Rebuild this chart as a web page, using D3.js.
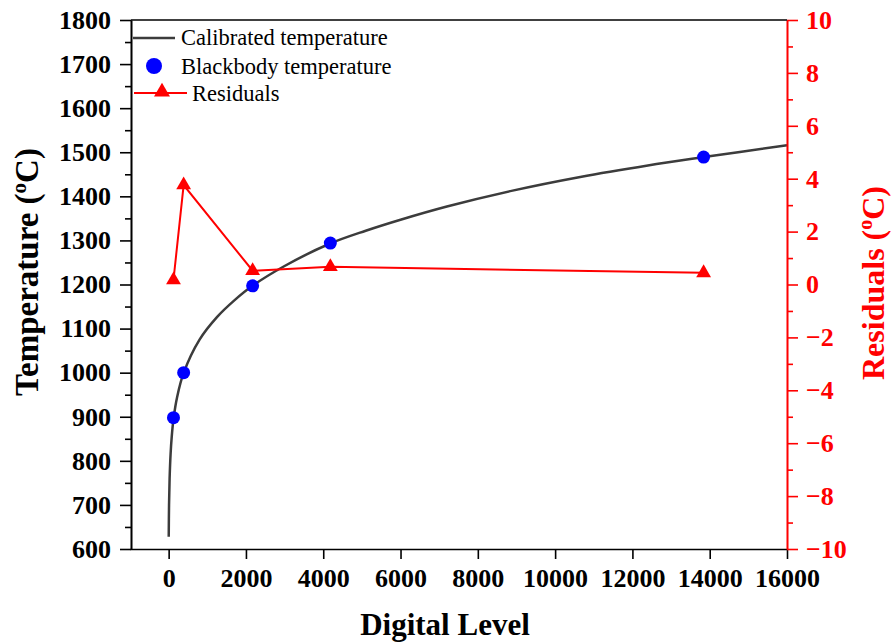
<!DOCTYPE html>
<html>
<head>
<meta charset="utf-8">
<script src="https://cdn.jsdelivr.net/npm/d3@7"></script>
<style>
  body { margin: 0; background: white; }
  text { font-family: "Liberation Serif", "Times New Roman", serif; }
</style>
</head>
<body>
<div id="chart"></div>
<script>
// calibrated curve
const curveLevel = [2, 10, 25, 50, 80, 130, 220, 390, 800, 1250, 1700, 2170, 3000, 4180, 5100, 6000, 7200, 8900, 10650, 12400, 13850, 16000];
const curveTemp = [628, 700, 760, 815, 855, 898, 945, 1000, 1075, 1126, 1164, 1197, 1242, 1293, 1322, 1347, 1377, 1413, 1444, 1470, 1489, 1516];

// blackbody points
const bbLevel = [125, 388, 2173, 4184, 13842];
const bbTemp = [898, 1000, 1197, 1294, 1489];

// residuals (right axis)
const resLevel = [125, 388, 2173, 4184, 13842];
const resValue = [0.17, 3.76, 0.52, 0.67, 0.44];

const xTicks = [0, 2000, 4000, 6000, 8000, 10000, 12000, 14000, 16000];
const yTicks = [600, 700, 800, 900, 1000, 1100, 1200, 1300, 1400, 1500, 1600, 1700, 1800];
const yMinor = [650, 750, 850, 950, 1050, 1150, 1250, 1350, 1450, 1550, 1650, 1750];
const rTicks = [-10, -8, -6, -4, -2, 0, 2, 4, 6, 8, 10];
const rMinor = [-9, -7, -5, -3, -1, 1, 3, 5, 7, 9];

const w = 893;
const h = 644;
const padLeft = 131;
const padRight = 787;
const padTop = 20;
const padBottom = 549;

const xScale = d3.scaleLinear().domain([-1000, 16000]).range([padLeft - 1, padRight]);
const yScale = d3.scaleLinear().domain([600, 1800]).range([padBottom, padTop]);
const rScale = d3.scaleLinear().domain([-10, 10]).range([padBottom, padTop]);

const svg = d3.select("#chart")
  .append("svg")
  .attr("width", w)
  .attr("height", h)
  .style("background", "white");

// curve
const line = d3.line()
  .x((d, i) => xScale(curveLevel[i]))
  .y(d => yScale(d))
  .curve(d3.curveCatmullRom.alpha(0.5));

svg.append("path")
  .datum(curveTemp)
  .attr("d", line)
  .attr("fill", "none")
  .attr("stroke", "#3c3c3c")
  .attr("stroke-width", 2.5);

// residual line + triangles
const resLine = d3.line()
  .x((d, i) => xScale(resLevel[i]))
  .y(d => rScale(d));

svg.append("path")
  .datum(resValue)
  .attr("d", resLine)
  .attr("fill", "none")
  .attr("stroke", "#ff0000")
  .attr("stroke-width", 2);

const tri = d3.symbol().type(d3.symbolTriangle).size(95);

svg.selectAll(".tri")
  .data(resValue)
  .enter()
  .append("path")
  .attr("class", "tri")
  .attr("d", tri)
  .attr("transform", (d, i) => "translate(" + xScale(resLevel[i]) + "," + rScale(d) + ")")
  .attr("fill", "#ff0000");

// blackbody dots
svg.selectAll(".dot")
  .data(bbTemp)
  .enter()
  .append("circle")
  .attr("class", "dot")
  .attr("cx", (d, i) => xScale(bbLevel[i]))
  .attr("cy", d => yScale(d))
  .attr("r", 6.5)
  .attr("fill", "#0000ff");

// axes
function styleAxis(g, color, size) {
  g.selectAll("path").attr("stroke", color).attr("stroke-width", 1.6);
  g.selectAll("line").attr("stroke", color).attr("stroke-width", 1.6);
  g.selectAll("text")
    .attr("fill", color)
    .style("font-size", size)
    .style("font-weight", "bold")
    .style("font-family", "'Liberation Serif', 'Times New Roman', serif");
}

const xAxis = d3.axisBottom(xScale).tickValues(xTicks).tickSize(10).tickSizeOuter(0).tickPadding(10).tickFormat(d3.format("d"));
svg.append("g")
  .attr("transform", "translate(0," + padBottom + ")")
  .call(xAxis)
  .call(g => styleAxis(g, "#000", "26px"));

const yAxis = d3.axisLeft(yScale).tickValues(yTicks).tickSize(11).tickSizeOuter(0).tickPadding(9).tickFormat(d3.format("d"));
svg.append("g")
  .attr("transform", "translate(" + padLeft + ",0)")
  .call(yAxis)
  .call(g => styleAxis(g, "#000", "26px"));

svg.append("g")
  .attr("transform", "translate(" + padLeft + ",0)")
  .call(d3.axisLeft(yScale).tickValues(yMinor).tickSize(6).tickSizeOuter(0).tickFormat(""))
  .call(g => styleAxis(g, "#000", "26px"));

const rAxis = d3.axisRight(rScale).tickValues(rTicks).tickSize(11).tickSizeOuter(0).tickPadding(8);
svg.append("g")
  .attr("transform", "translate(" + padRight + ",0)")
  .call(rAxis)
  .call(g => styleAxis(g, "#ff0000", "26px"));

svg.append("g")
  .attr("transform", "translate(" + padRight + ",0)")
  .call(d3.axisRight(rScale).tickValues(rMinor).tickSize(6).tickSizeOuter(0).tickFormat(""))
  .call(g => styleAxis(g, "#ff0000", "26px"));

// top border
svg.append("line")
  .attr("x1", padLeft).attr("x2", padRight)
  .attr("y1", padTop).attr("y2", padTop)
  .attr("stroke", "#000")
  .attr("stroke-width", 1.6);

// axis titles
svg.append("text")
  .attr("x", 445)
  .attr("y", 635)
  .attr("text-anchor", "middle")
  .style("font-size", "31px")
  .style("font-weight", "bold")
  .text("Digital Level");

const yTitle = svg.append("text")
  .attr("transform", "translate(38,272) rotate(-90)")
  .attr("text-anchor", "middle")
  .style("font-size", "33px")
  .style("font-weight", "bold");
yTitle.append("tspan").text("Temperature (");
yTitle.append("tspan").text("o").style("font-size", "21px").attr("dy", -12);
yTitle.append("tspan").text("C)").attr("dy", 12);

const rTitle = svg.append("text")
  .attr("transform", "translate(884,283) rotate(-90)")
  .attr("text-anchor", "middle")
  .attr("fill", "#ff0000")
  .style("font-size", "32px")
  .style("font-weight", "bold");
rTitle.append("tspan").text("Residuals (");
rTitle.append("tspan").text("o").style("font-size", "20px").attr("dy", -12);
rTitle.append("tspan").text("C)").attr("dy", 12);

// legend
const legend = svg.append("g");
legend.append("line")
  .attr("x1", 133).attr("x2", 175)
  .attr("y1", 38).attr("y2", 38)
  .attr("stroke", "#3c3c3c")
  .attr("stroke-width", 2.5);
legend.append("text")
  .attr("x", 181).attr("y", 45)
  .style("font-size", "22.5px")
  .text("Calibrated temperature");

legend.append("circle")
  .attr("cx", 154).attr("cy", 66)
  .attr("r", 8)
  .attr("fill", "#0000ff");
legend.append("text")
  .attr("x", 181).attr("y", 74)
  .style("font-size", "22.5px")
  .text("Blackbody temperature");

legend.append("line")
  .attr("x1", 134).attr("x2", 187)
  .attr("y1", 93).attr("y2", 93)
  .attr("stroke", "#ff0000")
  .attr("stroke-width", 2);
legend.append("path")
  .attr("d", d3.symbol().type(d3.symbolTriangle).size(110))
  .attr("transform", "translate(162,92)")
  .attr("fill", "#ff0000");
legend.append("text")
  .attr("x", 192).attr("y", 101)
  .style("font-size", "22.5px")
  .text("Residuals");
</script>
</body>
</html>
